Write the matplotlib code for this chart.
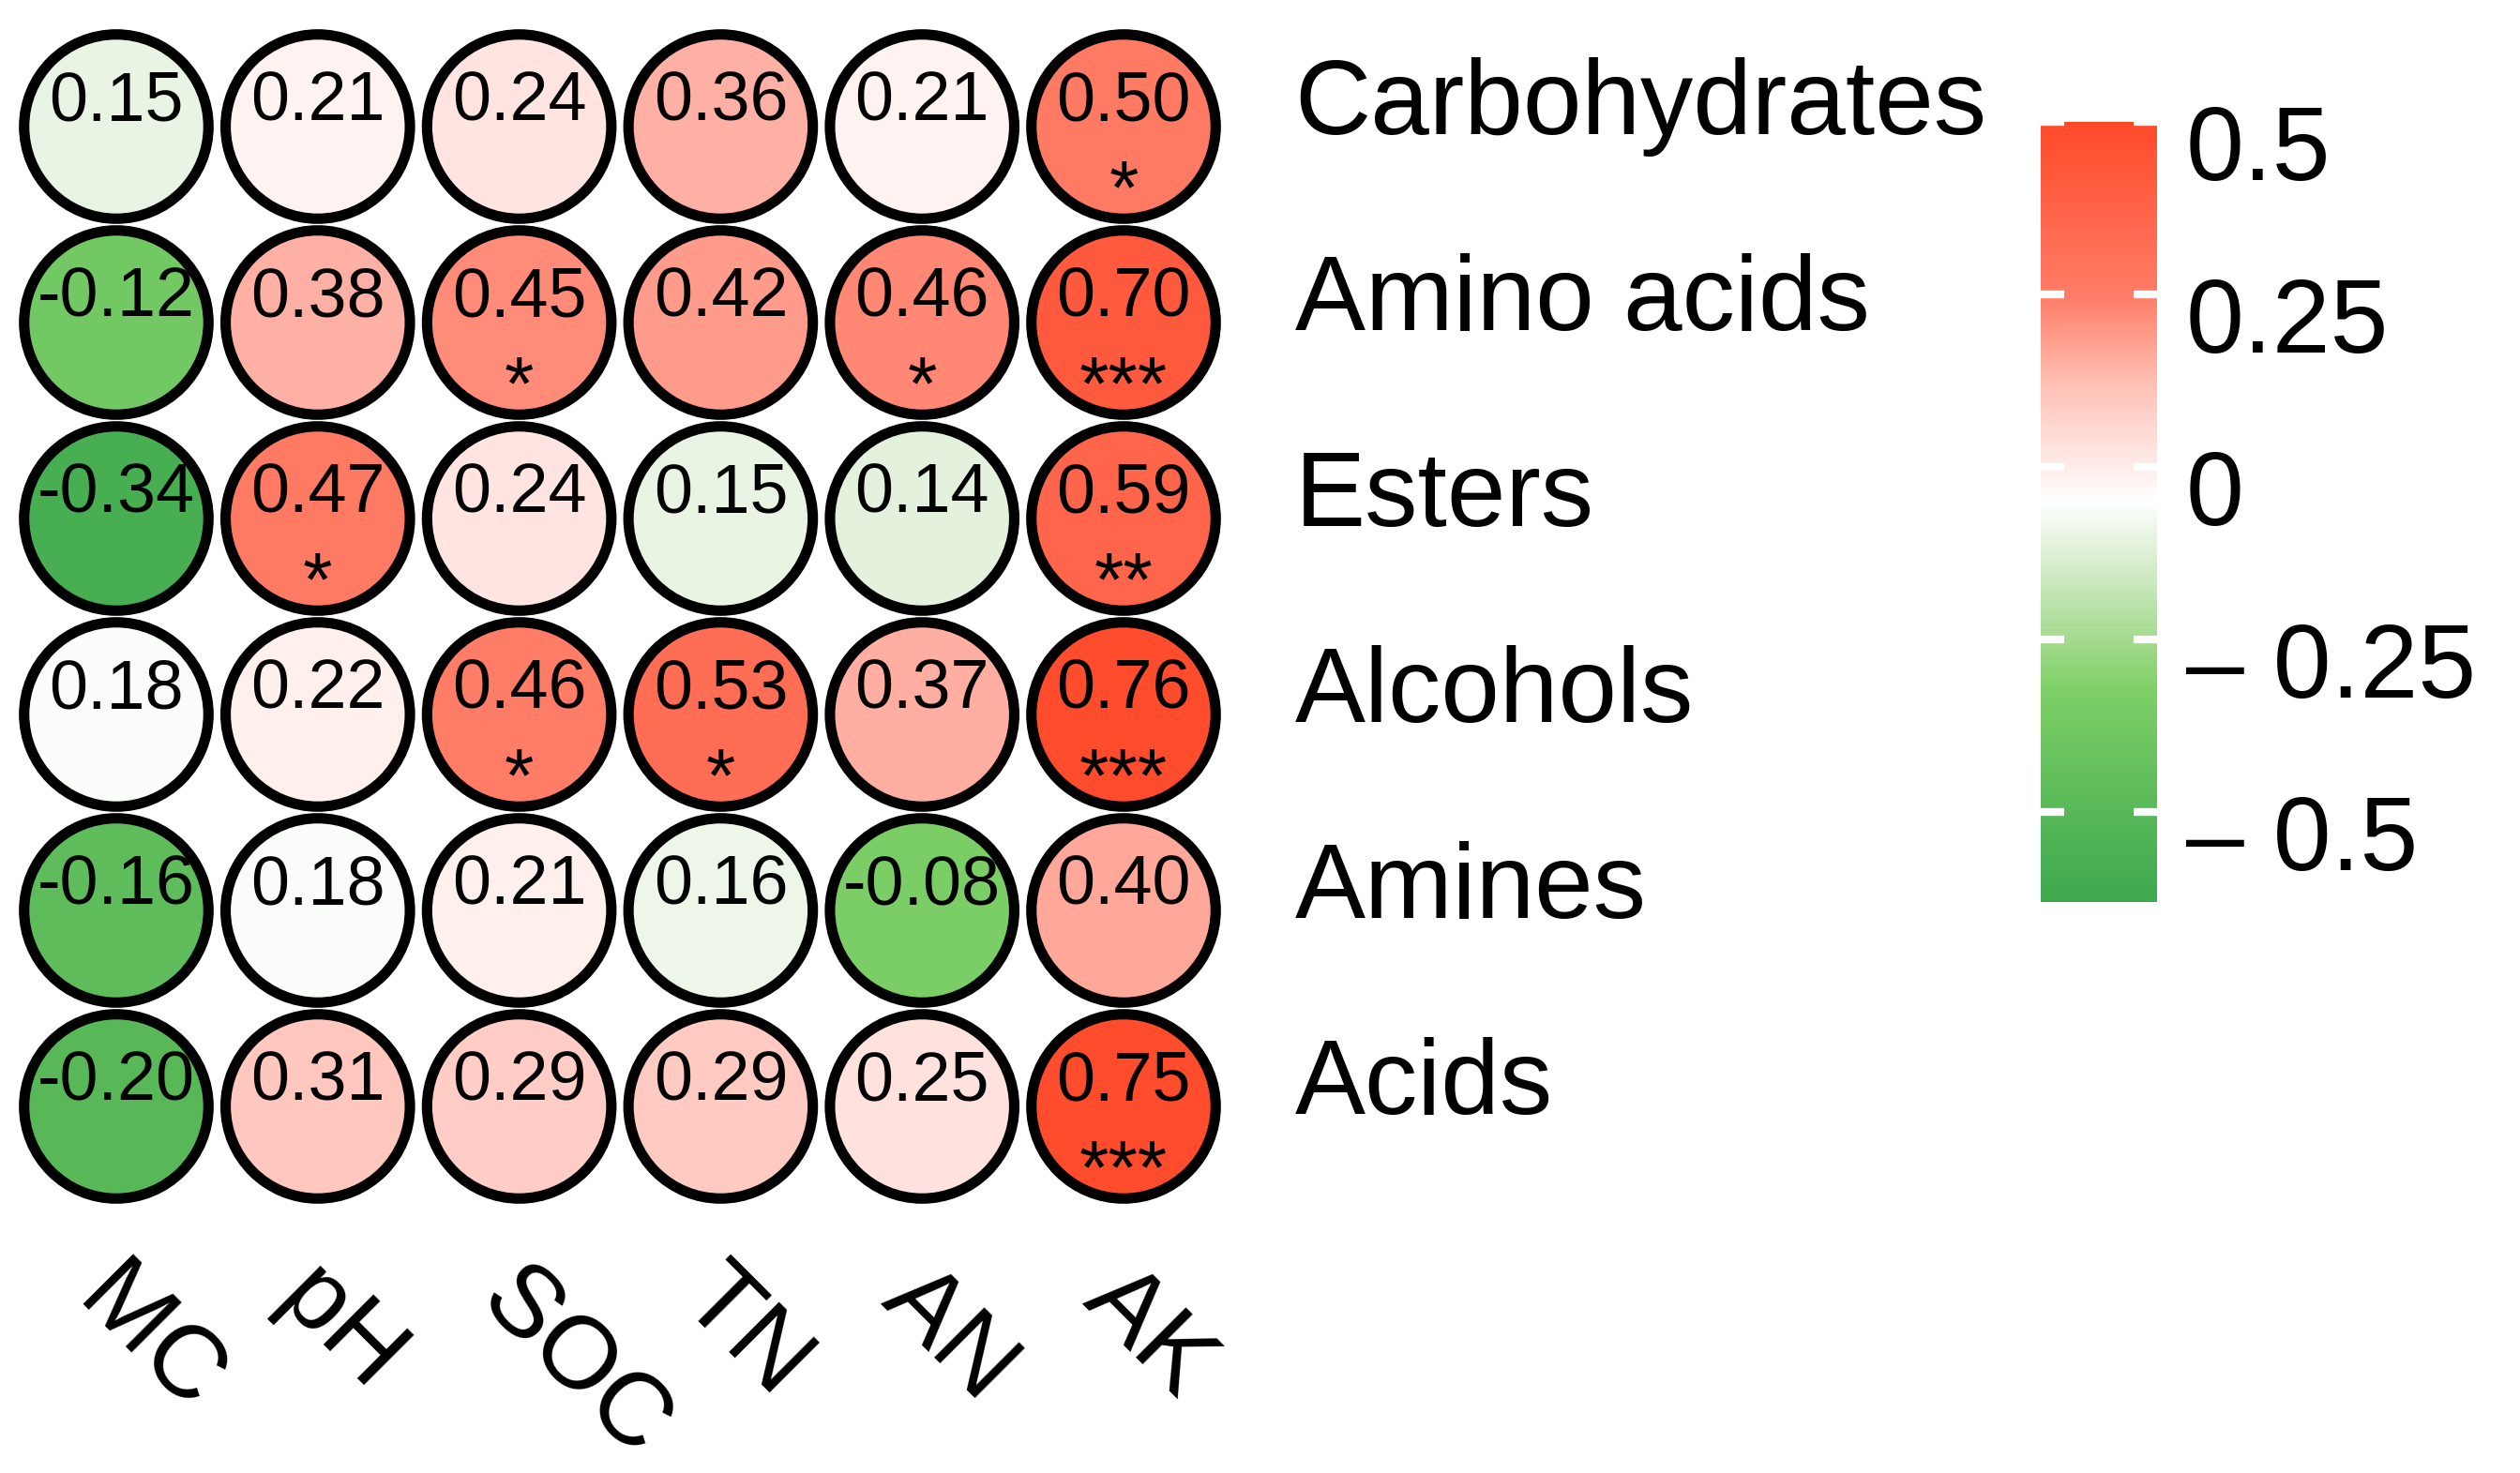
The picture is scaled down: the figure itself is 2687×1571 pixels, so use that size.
import numpy as np
import matplotlib
matplotlib.use("Agg")
import matplotlib.pyplot as plt
from matplotlib.colors import LinearSegmentedColormap, Normalize
from matplotlib.cm import ScalarMappable

# Row / column names
rows = ["Carbohydrates", "Amino acids", "Esters", "Alcohols", "Amines", "Acids"]
cols = ["MC", "pH", "SOC", "TN", "AN", "AK"]

# Correlation values written in the circles
r_values = [
    [0.15, 0.21, 0.24, 0.36, 0.21, 0.50],
    [-0.12, 0.38, 0.45, 0.42, 0.46, 0.70],
    [-0.34, 0.47, 0.24, 0.15, 0.14, 0.59],
    [0.18, 0.22, 0.46, 0.53, 0.37, 0.76],
    [-0.16, 0.18, 0.21, 0.16, -0.08, 0.40],
    [-0.20, 0.31, 0.29, 0.29, 0.25, 0.75],
]

# Significance marks
stars = [
    ["", "", "", "", "", "*"],
    ["", "", "*", "", "*", "***"],
    ["", "*", "", "", "", "**"],
    ["", "", "*", "*", "", "***"],
    ["", "", "", "", "", ""],
    ["", "", "", "", "", "***"],
]

# Fill colour of each circle, read as a position on the colour bar
shade = [
    [-0.10, -0.02, 0.02, 0.15, -0.02, 0.26],
    [-0.38, 0.15, 0.22, 0.19, 0.23, 0.42],
    [-0.58, 0.26, 0.02, -0.10, -0.11, 0.36],
    [-0.06, -0.01, 0.25, 0.32, 0.155, 0.49],
    [-0.47, -0.06, -0.01, -0.09, -0.34, 0.165],
    [-0.50, 0.10, 0.085, 0.09, 0.03, 0.49],
]

cbar_ticks = [0.5, 0.25, 0, -0.25, -0.5]
cbar_labels = ["0.5", "0.25", "0", "\u2013 0.25", "\u2013 0.5"]

plt.rcParams['font.family'] = ['Liberation Sans', 'DejaVu Sans']

vmin, vmax = -0.63, 0.5
nodes = [(-0.63, "#3ea84e"), (-0.5, "#58b858"), (-0.32, "#80d068"),
         (-0.25, "#a4da8e"), (-0.12, "#e0f0d8"), (-0.047, "#ffffff"),
         (0.0, "#ffecea"), (0.12, "#ffc0b6"), (0.25, "#ff7c66"), (0.5, "#ff4a2a")]
cmap = LinearSegmentedColormap.from_list(
    "gr", [((v - vmin) / (vmax - vmin), c) for v, c in nodes])
norm = Normalize(vmin=vmin, vmax=vmax)

W, H = 2687, 1571
fig = plt.figure(figsize=(W / 100, H / 100), dpi=100)

# main grid of circles
left, right, top, bottom = 16.6, 1305.4, 30.5, 1284.5
ax = fig.add_axes([left / W, 1 - bottom / H, (right - left) / W, (bottom - top) / H])
ax.set_xlim(-0.5, len(cols) - 0.5)
ax.set_ylim(len(rows) - 0.5, -0.5)
ax.axis("off")

vals = np.array(r_values)
shd = np.array(shade)
yy, xx = np.meshgrid(np.arange(len(rows)), np.arange(len(cols)), indexing="ij")
ax.scatter(xx.ravel(), yy.ravel(), s=141.5 ** 2, c=cmap(norm(shd.ravel())),
           edgecolors="black", linewidths=8, zorder=2, clip_on=False)

for i in range(len(rows)):
    for j in range(len(cols)):
        ax.text(j, i - 0.03, "%.2f" % vals[i, j], ha="center", va="baseline",
                fontsize=53, zorder=3)
        if stars[i][j]:
            ax.text(j, i + 0.44, stars[i][j], ha="center", va="baseline",
                    fontsize=58, zorder=3)
    ax.text(5.85, i + 0.04, rows[i], ha="left", va="baseline", fontsize=81,
            clip_on=False)

for j, name in enumerate(cols):
    ax.text(j - 0.12, 5.91, name, rotation=-45, rotation_mode="anchor",
            ha="left", va="center", fontsize=79, clip_on=False)

# colour bar
cb_l, cb_r, cb_t, cb_b = 2176, 2300, 130, 962
cax = fig.add_axes([cb_l / W, 1 - cb_b / H, (cb_r - cb_l) / W, (cb_b - cb_t) / H])
cbar = fig.colorbar(ScalarMappable(norm=norm, cmap=cmap), cax=cax)
cbar.outline.set_visible(False)
cax.set_yticks([])
cax.hlines(cbar_ticks, 0, 0.2, colors="white", linewidth=6)
cax.hlines(cbar_ticks, 0.8, 1, colors="white", linewidth=6)
for t, lab in zip(cbar_ticks, cbar_labels):
    cax.text(1.25, t - 0.084, lab, transform=cax.get_yaxis_transform(),
             ha="left", va="baseline", fontsize=80, clip_on=False)

fig.savefig("out.png", dpi=100)
